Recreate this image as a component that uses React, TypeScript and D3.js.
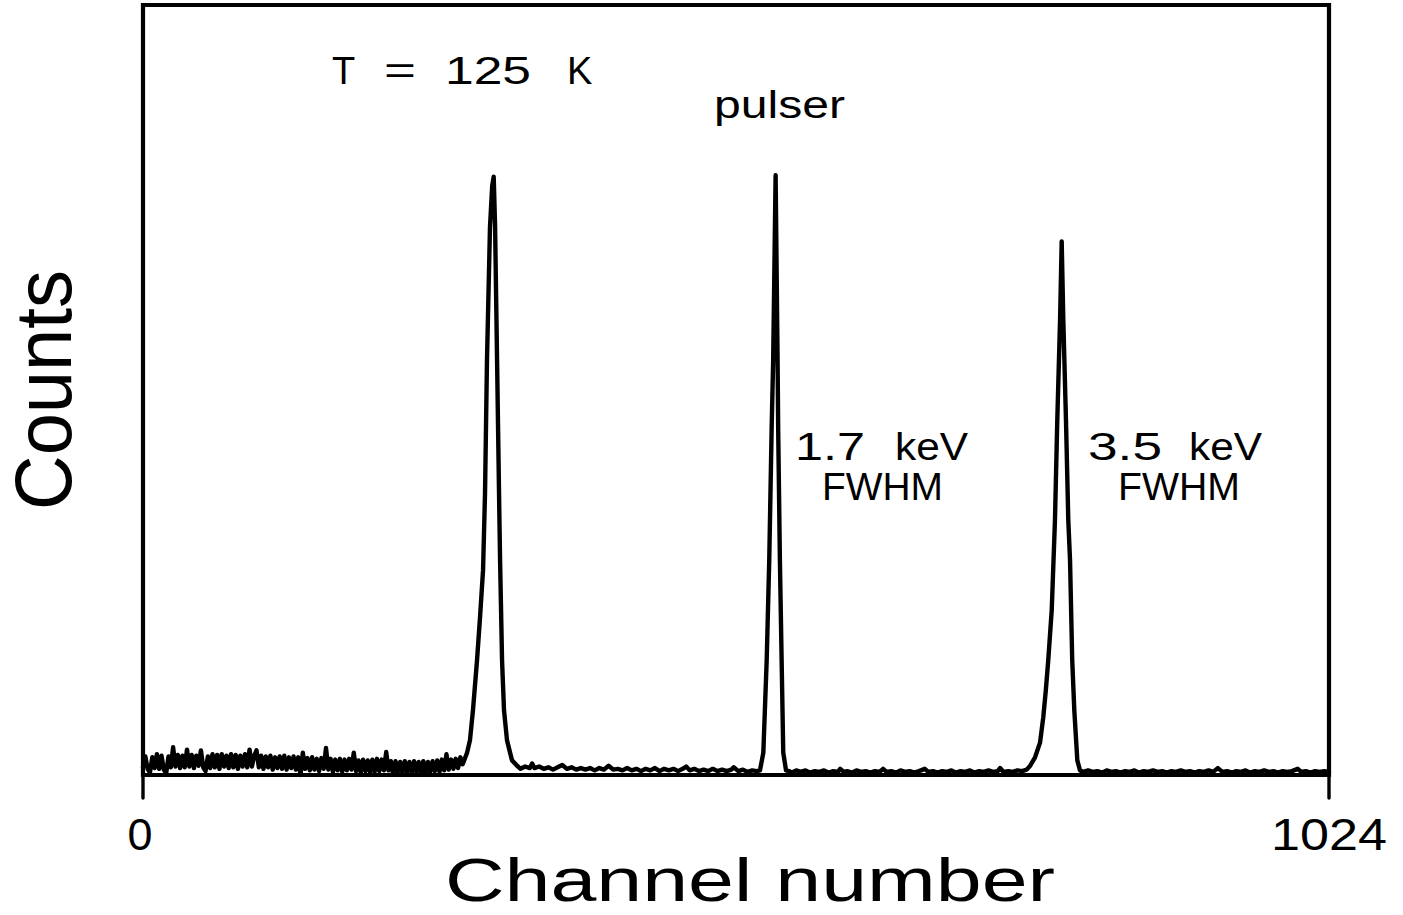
import React from "react";
import * as d3 from "d3";

// ---- data: [channel, counts] ----
const baselineLeft: [number, number][] = [
  [0, 10], [2, 24], [4, 8], [6, 3], [8, 23], [10, 9], [12, 27], [14, 8], [16, 25], [18, 7],
  [20, 2], [22, 24], [24, 10], [26, 36], [28, 11], [30, 26], [32, 9], [34, 25], [36, 10], [38, 33],
  [40, 11], [42, 26], [44, 9], [46, 25], [48, 12], [50, 32], [52, 10], [54, 5], [56, 24], [58, 9],
  [60, 27], [62, 10], [64, 26], [66, 8], [68, 27], [70, 11], [72, 25], [74, 9], [76, 27], [78, 10],
  [80, 26], [82, 8], [84, 25], [86, 11], [88, 27], [90, 10], [92, 33], [94, 11], [96, 25], [98, 32],
  [100, 10], [102, 25], [104, 8], [106, 24], [108, 10], [110, 25], [112, 7], [114, 23], [116, 9], [118, 24],
  [120, 8], [122, 25], [124, 7], [126, 23], [128, 9], [130, 24], [132, 7], [134, 23], [136, 0], [138, 29],
  [140, 8], [142, 22], [144, 6], [146, 23], [148, 7], [150, 21], [152, 5], [154, 22], [156, 8], [158, 35],
  [160, 7], [162, 21], [164, 4], [166, 20], [168, 6], [170, 21], [172, 4], [174, 20], [176, 6], [178, 21],
  [180, 7], [182, 29], [184, 5], [186, 19], [188, 3], [190, 20], [192, 5], [194, 19], [196, 3], [198, 20],
  [200, 4], [202, 21], [204, 5], [206, 20], [208, 6], [210, 30], [212, 6], [214, 18], [216, 1], [218, 18],
  [220, 4], [222, 17], [224, 3], [226, 18], [228, 4], [230, 17], [232, 3], [234, 18], [236, 4], [238, 17],
  [240, 3], [242, 18], [244, 2], [246, 17], [248, 4], [250, 18], [252, 5], [254, 19], [256, 4], [258, 20],
  [260, 6], [262, 27], [264, 7], [266, 20], [268, 8], [270, 21], [272, 9], [274, 23], [276, 14],
];

const peak1: [number, number][] = [
  [279.8, 29], [282.3, 45], [284.9, 84], [288.4, 149], [291, 205], [293.6, 266], [295.3, 366],
  [297, 539], [299.6, 712], [301.5, 765], [302.8, 777], [304, 712], [305.7, 539], [307.4, 366],
  [308.3, 279], [310, 149], [311.7, 84], [314.3, 45], [318.6, 19],
];

const baselineMid1: [number, number][] = [
  [323, 12], [326, 8], [330, 11], [334, 9], [336, 15], [338, 9], [342, 11], [346, 8], [350, 10], [354, 7],
  [358, 10], [362, 13], [366, 8], [370, 10], [374, 7], [378, 9], [382, 7], [386, 9], [390, 6], [394, 9],
  [398, 7], [402, 12], [406, 7], [410, 8], [414, 6], [418, 9], [422, 6], [426, 8], [430, 5], [434, 8],
  [438, 6], [442, 9], [446, 5], [450, 8], [454, 6], [458, 8], [462, 5], [466, 8], [469, 11], [472, 6],
  [476, 8], [480, 5], [484, 7], [488, 5], [492, 8], [496, 5], [500, 7], [504, 5], [508, 7], [510, 10],
  [514, 5], [518, 7], [522, 4], [526, 6], [530, 5],
];

const pulser: [number, number][] = [
  [532.7, 6], [535.6, 29], [538.5, 149], [540.7, 279], [542.8, 452], [544.1, 539], [546.2, 779],
  [547.9, 539], [548.4, 452], [549.9, 279], [551.4, 149], [552.8, 29], [555.2, 6],
];

const baselineMid2: [number, number][] = [
  [558, 5], [560, 3], [564, 6], [568, 4], [572, 6], [576, 3], [580, 5], [584, 4], [588, 6], [592, 3],
  [596, 5], [600, 4], [602, 8], [605, 4], [608, 5], [612, 3], [616, 6], [620, 4], [624, 5], [628, 3],
  [632, 5], [636, 4], [639, 8], [642, 4], [646, 5], [650, 3], [654, 6], [658, 4], [662, 5], [666, 3],
  [670, 5], [675, 8], [678, 4], [682, 5], [686, 3], [690, 5], [694, 4], [698, 6], [702, 3], [706, 5],
  [710, 4], [714, 6], [718, 3], [722, 5], [726, 4], [730, 6], [734, 4], [738, 5], [740, 9], [743, 4],
  [747, 5], [751, 4], [755, 6], [759, 5], [763, 7],
];

const peak3: [number, number][] = [
  [766, 12], [770.2, 23], [774.5, 42], [777.3, 75], [779.5, 110], [781.6, 149], [784.6, 214],
  [787.4, 331], [789.4, 461], [791.8, 591], [793.2, 693], [794.6, 591], [796.9, 461], [798.9, 331],
  [800.4, 279], [802.3, 149], [804.1, 84], [806.7, 19], [809, 6],
];

const baselineRight: [number, number][] = [
  [812, 4], [816, 6], [820, 4], [824, 5], [828, 3], [832, 6], [836, 4], [840, 5], [844, 3], [848, 5],
  [852, 4], [856, 6], [860, 3], [864, 5], [868, 4], [872, 6], [876, 4], [880, 5], [884, 3], [888, 5],
  [892, 4], [896, 6], [900, 4], [904, 5], [908, 3], [912, 5], [916, 4], [920, 6], [924, 4], [928, 9],
  [932, 4], [936, 5], [940, 3], [944, 5], [948, 4], [952, 6], [956, 3], [960, 5], [964, 4], [968, 6],
  [972, 4], [976, 5], [980, 3], [984, 5], [988, 4], [992, 5], [997, 8], [1000, 4], [1004, 5], [1008, 3],
  [1012, 5], [1016, 4], [1020, 5], [1024, 4],
];

const xTicks = [0, 1024];
const xTickLabels = ["0", "1024"];

const spectrum = [
  ...baselineLeft, ...peak1, ...baselineMid1, ...pulser,
  ...baselineMid2, ...peak3, ...baselineRight,
];

const W = 1403;
const H = 915;
const left = 143, right = 1329, top = 5, bottom = 775;
const FONT = "'Liberation Sans', Arial, sans-serif";

export default function App() {
  const x = d3.scaleLinear().domain([0, 1024]).range([left, right]);
  const y = d3.scaleLinear().domain([0, 1000]).range([bottom, top]);
  const line = d3.line<[number, number]>().x((d) => x(d[0])).y((d) => y(d[1]));
  const sw = 4.4;

  return (
    <svg
      width={W}
      height={H}
      style={{ position: "absolute", left: 0, top: 0, background: "#fff" }}
    >
      <rect x={0} y={0} width={W} height={H} fill="#fff" />
      {/* frame */}
      <path
        d={`M${left},${bottom} V${top} H${right} V${bottom} Z`}
        fill="none"
        stroke="#000"
        strokeWidth={4.2}
        strokeLinejoin="miter"
      />
      {/* ticks */}
      {xTicks.map((t) => (
        <line key={t} x1={x(t)} x2={x(t)} y1={bottom} y2={bottom + 23} stroke="#000" strokeWidth={3.4} strokeLinecap="round" />
      ))}
      {xTicks.map((t, i) => (
        <text
          key={"l" + t}
          x={x(t) + (i === 0 ? -3 : 0)}
          y={850}
          textAnchor="middle"
          fontFamily={FONT}
          fontSize={44}
          textLength={i === 0 ? 25 : 116}
          lengthAdjust="spacingAndGlyphs"
        >
          {xTickLabels[i]}
        </text>
      ))}
      {/* spectrum */}
      <path d={line(spectrum) || ""} fill="none" stroke="#000" strokeWidth={sw} strokeLinejoin="round" strokeLinecap="round" />

      {/* axis titles */}
      <text
        x={445}
        y={901}
        fontFamily={FONT}
        fontSize={61}
        textLength={610}
        lengthAdjust="spacingAndGlyphs"
      >
        Channel number
      </text>
      <text
        transform="translate(71,390) rotate(-90)"
        textAnchor="middle"
        fontFamily={FONT}
        fontSize={80}
        textLength={240}
        lengthAdjust="spacingAndGlyphs"
      >
        Counts
      </text>

      {/* annotations */}
      <g fontFamily={FONT} fontSize={38}>
        <text x={332} y={84}>T</text>
        <text x={384} y={84} textLength={32} lengthAdjust="spacingAndGlyphs">=</text>
        <text x={445} y={84} textLength={86} lengthAdjust="spacingAndGlyphs">125</text>
        <text x={567} y={84}>K</text>
        <text x={714} y={118} textLength={131} lengthAdjust="spacingAndGlyphs">pulser</text>
        <text x={795} y={460} textLength={70} lengthAdjust="spacingAndGlyphs">1.7</text>
        <text x={895} y={460} textLength={73} lengthAdjust="spacingAndGlyphs">keV</text>
        <text x={822} y={500} textLength={121} lengthAdjust="spacingAndGlyphs">FWHM</text>
        <text x={1088} y={460} textLength={74} lengthAdjust="spacingAndGlyphs">3.5</text>
        <text x={1189} y={460} textLength={73} lengthAdjust="spacingAndGlyphs">keV</text>
        <text x={1118} y={500} textLength={122} lengthAdjust="spacingAndGlyphs">FWHM</text>
      </g>
    </svg>
  );
}
